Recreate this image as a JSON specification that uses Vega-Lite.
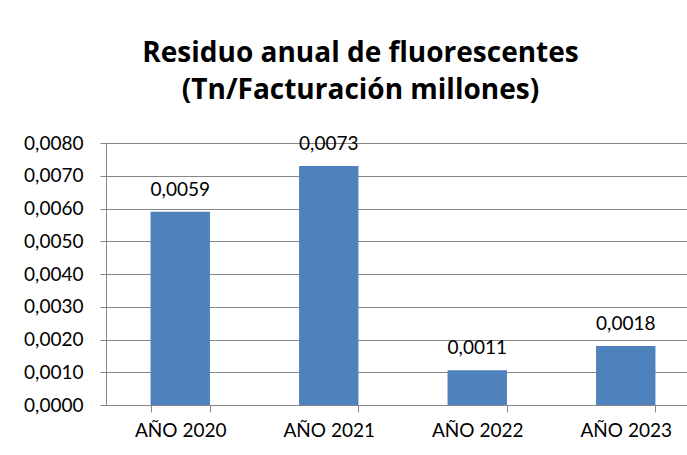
{
  "$schema": "https://vega.github.io/schema/vega-lite/v6.json",
  "autosize": "none",
  "width": 581,
  "height": 262,
  "padding": {"left": 106, "top": 143, "right": 0, "bottom": 50},
  "background": "white",
  "config": {
    "locale": {"number": {"decimal": ",", "thousands": ".", "grouping": [3], "currency": ["€", ""]}},
    "view": {"stroke": null},
    "font": "Lato"
  },
  "title": {
    "text": ["Residuo anual de fluorescentes", "(Tn/Facturación millones)"],
    "font": "Open Sans",
    "fontSize": 28,
    "fontWeight": "bold",
    "color": "#000000",
    "anchor": "middle",
    "dx": -36,
    "lineHeight": 37,
    "offset": 29
  },
  "data": {
    "values": [
      {"anio": "AÑO 2020", "valor": 0.0059},
      {"anio": "AÑO 2021", "valor": 0.0073},
      {"anio": "AÑO 2022", "valor": 0.00106},
      {"anio": "AÑO 2023", "valor": 0.0018}
    ]
  },
  "encoding": {
    "x": {
      "field": "anio",
      "type": "nominal",
      "sort": null,
      "scale": {"range": [0, 594], "paddingInner": 0.6, "paddingOuter": 0.3},
      "axis": {
        "title": null,
        "labelAngle": 0,
        "labelFont": "Lato",
        "labelFontSize": 19,
        "labelColor": "#000000",
        "labelPadding": 9,
        "tickBand": "extent",
        "tickSize": 7,
        "tickColor": "#868686",
        "domainColor": "#868686",
        "grid": false
      }
    },
    "y": {
      "field": "valor",
      "type": "quantitative",
      "scale": {"domain": [0, 0.008], "nice": false},
      "axis": {
        "title": null,
        "values": [0, 0.001, 0.002, 0.003, 0.004, 0.005, 0.006, 0.007, 0.008],
        "format": ".4f",
        "labelFont": "Lato",
        "labelFontSize": 19,
        "labelColor": "#000000",
        "labelPadding": 17,
        "tickSize": 6,
        "tickColor": "#868686",
        "domainColor": "#868686",
        "grid": true,
        "gridColor": "#868686"
      }
    }
  },
  "layer": [
    {"mark": {"type": "bar", "color": "#4F81BD"}},
    {
      "mark": {"type": "text", "baseline": "alphabetic", "dy": -16, "fontSize": 19, "font": "Lato", "color": "#000000"},
      "encoding": {"text": {"field": "valor", "type": "quantitative", "format": ".4f"}}
    }
  ]
}
